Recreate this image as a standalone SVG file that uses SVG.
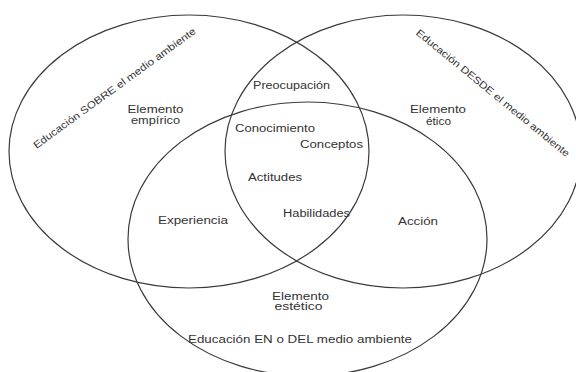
<svg xmlns="http://www.w3.org/2000/svg" width="576" height="372" viewBox="0 0 576 372">
<style>
.c{fill:none;stroke:#3a3a3a;stroke-width:1.2}
text{font-family:"Liberation Sans",Arial,sans-serif;font-size:10px;fill:#333;text-anchor:middle}
</style>
<rect width="576" height="372" fill="#fff"/>
<g id="sobre">
<ellipse class="c" cx="189" cy="151.5" rx="180" ry="136.5"/>
<text transform="translate(114.5,88) rotate(-36)" x="0" y="3.5" textLength="198" lengthAdjust="spacingAndGlyphs">Educación SOBRE el medio ambiente</text>
<text x="155.5" y="112.5" textLength="56" lengthAdjust="spacingAndGlyphs">Elemento</text>
<text x="155.5" y="123.5" textLength="49" lengthAdjust="spacingAndGlyphs">empírico</text>
<text x="193" y="224" textLength="70" lengthAdjust="spacingAndGlyphs">Experiencia</text>
</g>
<g id="desde">
<ellipse class="c" cx="403" cy="151.5" rx="178" ry="136.5"/>
<text transform="translate(493,93) rotate(39.3)" x="0" y="3.5" textLength="195" lengthAdjust="spacingAndGlyphs">Educación DESDE el medio ambiente</text>
<text x="438" y="112.5" textLength="56" lengthAdjust="spacingAndGlyphs">Elemento</text>
<text x="438.5" y="124.5" textLength="25" lengthAdjust="spacingAndGlyphs">ético</text>
<text x="418" y="225" textLength="40" lengthAdjust="spacingAndGlyphs">Acción</text>
</g>
<g id="en-del">
<ellipse class="c" cx="307.5" cy="239" rx="179.5" ry="137"/>
<text x="300.5" y="299.5" textLength="57" lengthAdjust="spacingAndGlyphs">Elemento</text>
<text x="298.5" y="310" textLength="48" lengthAdjust="spacingAndGlyphs">estético</text>
<text x="300" y="343" textLength="224" lengthAdjust="spacingAndGlyphs">Educación EN o DEL medio ambiente</text>
</g>
<g id="interseccion">
<text x="291.5" y="89" textLength="77" lengthAdjust="spacingAndGlyphs">Preocupación</text>
<text x="275" y="132" textLength="80" lengthAdjust="spacingAndGlyphs">Conocimiento</text>
<text x="331.5" y="148" textLength="63" lengthAdjust="spacingAndGlyphs">Conceptos</text>
<text x="275" y="181" textLength="54" lengthAdjust="spacingAndGlyphs">Actitudes</text>
<text x="316.5" y="217" textLength="67" lengthAdjust="spacingAndGlyphs">Habilidades</text>
</g>
<g id="connectors"/>
</svg>
